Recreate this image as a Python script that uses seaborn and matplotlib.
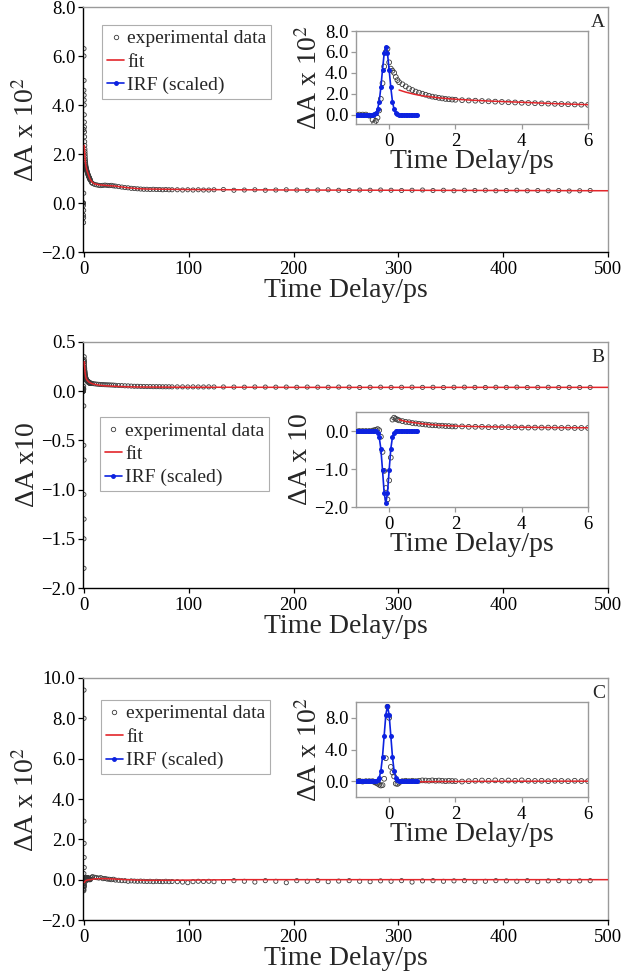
import matplotlib
matplotlib.use("Agg")
import matplotlib.pyplot as plt
import seaborn as sns
from matplotlib.lines import Line2D
from matplotlib.ticker import FuncFormatter, MultipleLocator

# ---------------- data ----------------
t_early = [-1.0, -0.9, -0.8, -0.7, -0.6, -0.5, -0.45, -0.4, -0.35, -0.3, -0.25, -0.2, -0.15,
           -0.1, -0.05, 0.0, 0.05, 0.1, 0.15, 0.2, 0.25, 0.3, 0.4, 0.5, 0.6, 0.7, 0.8, 0.9,
           1.0, 1.1, 1.2, 1.3, 1.4, 1.5, 1.6, 1.7, 1.8, 1.9, 2.0, 2.2, 2.4, 2.6, 2.8, 3.0,
           3.2, 3.4, 3.6, 3.8, 4.0, 4.2, 4.4, 4.6, 4.8, 5.0, 5.2, 5.4, 5.6, 5.8, 6.0]

t_long = [7, 8, 10, 12, 14, 16, 18, 20, 22, 24, 26, 28, 30, 33, 36, 39, 42, 45, 48, 51, 54,
          57, 60, 63, 66, 69, 72, 75, 78, 81, 84, 89, 94, 99, 104, 109, 114, 119, 124,
          133, 143, 153, 163, 173, 183, 193, 203, 213, 223, 233, 243, 253, 263, 273, 283,
          293, 303, 313, 323, 333, 343, 353, 363, 373, 383, 393, 403, 413, 423, 433, 443,
          453, 463, 473, 483]

fit_t = [0.3, 0.5, 0.75, 1.0, 1.5, 2.0, 2.5, 3, 4, 5, 6, 8, 10, 15, 20, 30, 40, 50, 60,
         80, 100, 150, 200, 300, 400, 500]

irf_t = [-1.0, -0.95, -0.9, -0.85, -0.8, -0.75, -0.7, -0.65, -0.6, -0.55, -0.5, -0.45,
         -0.4, -0.35, -0.3, -0.25, -0.2, -0.15, -0.1, -0.05, 0.0, 0.05, 0.1, 0.15, 0.2,
         0.25, 0.3, 0.35, 0.4, 0.45, 0.5, 0.55, 0.6, 0.65, 0.7, 0.75, 0.8, 0.85]

# Panel A  (ΔA x 10^2)
a_exp_early = [0.0, 0.0, 0.0, 0.0, -0.1, -0.5, -0.8, -0.6, -0.3, 0.4, 1.5, 3.0, 4.6,
               6.0, 6.3, 5.0, 4.4, 4.2, 4.0, 3.6, 3.3, 3.1, 2.9, 2.7, 2.5, 2.35, 2.2, 2.1,
               2.0, 1.9, 1.8, 1.72, 1.66, 1.6, 1.55, 1.5, 1.47, 1.44, 1.42, 1.38, 1.35,
               1.33, 1.3, 1.27, 1.24, 1.21, 1.18, 1.16, 1.13, 1.11, 1.09, 1.07, 1.05,
               1.03, 1.01, 0.99, 0.97, 0.95, 0.93]
a_exp_long = [0.84, 0.8, 0.76, 0.74, 0.72, 0.71, 0.72, 0.73, 0.72, 0.71, 0.72, 0.7, 0.69,
              0.67, 0.65, 0.63, 0.62, 0.6, 0.59, 0.58, 0.57, 0.56, 0.56, 0.55, 0.56, 0.55,
              0.55, 0.54, 0.55, 0.54, 0.54, 0.54, 0.53, 0.54, 0.53, 0.54, 0.53, 0.53, 0.54,
              0.55, 0.52, 0.53, 0.54, 0.52, 0.53, 0.54, 0.53, 0.52, 0.53, 0.54, 0.52, 0.51,
              0.53, 0.52, 0.53, 0.52, 0.51, 0.52, 0.53, 0.51, 0.52, 0.50, 0.52, 0.51, 0.52,
              0.50, 0.51, 0.52, 0.50, 0.51, 0.50, 0.51, 0.49, 0.50, 0.51]
a_fit = [2.35, 2.15, 1.95, 1.8, 1.6, 1.47, 1.38, 1.3, 1.18, 1.05, 0.95, 0.84, 0.78, 0.74,
         0.72, 0.69, 0.63, 0.59, 0.57, 0.56, 0.55, 0.54, 0.53, 0.52, 0.51, 0.5]
a_irf = [0, 0, 0, 0, 0, 0, 0, 0, 0, 0, 0, 0.04, 0.16, 0.49, 1.24, 2.6, 4.3, 5.85, 6.5,
         5.85, 4.3, 2.6, 1.24, 0.49, 0.16, 0.04, 0, 0, 0, 0, 0, 0, 0, 0, 0, 0, 0, 0]

# Panel B  (ΔA x 10)
b_exp_early = [0.0, 0.0, 0.0, 0.0, 0.0, 0.01, 0.02, 0.03, 0.05, 0.02, -0.15, -0.55,
               -1.05, -1.5, -1.8, -1.3, -0.7, 0.3, 0.35, 0.32, 0.3, 0.28, 0.26, 0.24,
               0.23, 0.21, 0.2, 0.19, 0.18, 0.17, 0.16, 0.15, 0.15, 0.14, 0.14, 0.13,
               0.13, 0.12, 0.12, 0.12, 0.11, 0.11, 0.11, 0.1, 0.1, 0.1, 0.1, 0.1, 0.09,
               0.09, 0.09, 0.09, 0.09, 0.09, 0.08, 0.09, 0.08, 0.08, 0.08]
b_exp_long = [0.08, 0.078, 0.075, 0.072, 0.07, 0.068, 0.067, 0.066, 0.065, 0.064, 0.063,
              0.062, 0.06, 0.058, 0.057, 0.055, 0.054, 0.052, 0.05, 0.05, 0.049, 0.048,
              0.047, 0.047, 0.046, 0.046, 0.046, 0.045, 0.045, 0.045, 0.044, 0.044, 0.044,
              0.043, 0.044, 0.043, 0.043, 0.044, 0.043, 0.043, 0.042, 0.041, 0.043, 0.042,
              0.041, 0.042, 0.040, 0.042, 0.041, 0.040, 0.042, 0.041, 0.038, 0.040, 0.041,
              0.039, 0.040, 0.041, 0.039, 0.040, 0.038, 0.040, 0.041, 0.039, 0.038, 0.040,
              0.039, 0.041, 0.038, 0.039, 0.040, 0.038, 0.039, 0.038, 0.039]
b_fit = [0.3, 0.25, 0.22, 0.19, 0.15, 0.13, 0.12, 0.11, 0.1, 0.09, 0.085, 0.075, 0.07,
         0.06, 0.055, 0.05, 0.045, 0.043, 0.042, 0.041, 0.04, 0.04, 0.039, 0.039, 0.039,
         0.039]
b_irf = [0, 0, 0, 0, 0, 0, 0, 0, 0, 0, 0, 0, 0, -0.04, -0.16, -0.47, -1.03, -1.63, -1.9,
         -1.63, -1.03, -0.47, -0.16, -0.04, 0, 0, 0, 0, 0, 0, 0, 0, 0, 0, 0, 0, 0, 0]

# Panel C  (ΔA x 10^2)
c_exp_early = [0.0, 0.05, -0.05, 0.0, 0.0, 0.0, -0.1, -0.2, -0.3, -0.45, -0.55, -0.5,
               0.3, 2.9, 9.4, 8.0, 1.8, 1.1, 0.6, -0.3, -0.35, -0.2, 0.0, 0.05, 0.0, 0.05,
               0.0, 0.05, 0.1, 0.08, 0.05, 0.1, 0.05, 0.08, 0.05, 0.0, 0.05, 0.02, 0.0,
               -0.05, 0.0, 0.05, 0.08, 0.05, 0.1, 0.05, 0.08, 0.05, 0.1, 0.05, 0.03, 0.05,
               0.0, 0.05, 0.03, 0.0, 0.05, 0.02, 0.0]
c_exp_long = [0.1, 0.15, 0.12, 0.1, 0.08, 0.1, 0.05, 0.06, 0.03, 0.02, 0.0, 0.02, -0.02,
              -0.03, -0.05, -0.05, -0.08, -0.06, -0.07, -0.08, -0.07, -0.08, -0.09, -0.08,
              -0.1, -0.08, -0.09, -0.1, -0.08, -0.1, -0.09, -0.1, -0.12, -0.15, -0.1,
              -0.08, -0.09, -0.08, -0.1, -0.1, -0.05, -0.08, -0.12, -0.05, -0.08, -0.15,
              -0.05, -0.08, -0.05, -0.1, -0.07, -0.05, -0.08, -0.1, -0.06, -0.08, -0.05,
              -0.12, -0.06, -0.05, -0.08, -0.06, -0.05, -0.1, -0.08, -0.05, -0.06, -0.08,
              -0.05, -0.1, -0.06, -0.05, -0.08, -0.06, -0.05]
c_fit = [-0.15, -0.12, -0.1, -0.08, -0.05, -0.04, -0.03, -0.02, -0.01, 0.0, 0.0, 0.02,
         0.04, 0.05, 0.05, 0.03, 0.0, -0.02, -0.03, -0.03, -0.02, 0.0, 0.0, 0.0, 0.0, 0.0]
c_irf = [0, 0, 0, 0, 0, 0, 0, 0, 0, 0, 0, 0, 0.02, 0.11, 0.42, 1.29, 3.08, 5.76, 8.38,
         9.5, 8.38, 5.76, 3.08, 1.29, 0.42, 0.11, 0.02, 0, 0, 0, 0, 0, 0, 0, 0, 0, 0, 0]

legend_labels = ["experimental data", "fit", "IRF (scaled)"]
panel_letters = ["A", "B", "C"]
main_ylabels = ["ΔA x 10$^{2}$", "ΔA x10", "ΔA x 10$^{2}$"]
inset_ylabels = ["ΔA x 10$^{2}$", "ΔA x 10", "ΔA x 10$^{2}$"]
xlabel = "Time Delay/ps"

# ---------------- style ----------------
sns.set_style("ticks")
plt.rcParams["font.family"] = ["Liberation Serif", "DejaVu Serif"]
plt.rcParams["mathtext.fontset"] = "stix"
plt.rcParams["axes.unicode_minus"] = True

EXP_EC = "#3a3a3a"
FIT_C = "#e3262b"
IRF_C = "#0c22e0"
GRAY = "#9a9a9a"

fig = plt.figure(figsize=(6.21, 9.72), dpi=100)

W, H = 621.0, 972.0
def rect(l, t, r, b):
    return [l / W, 1 - b / H, (r - l) / W, (b - t) / H]

main_rects = [rect(83, 7, 608, 252), rect(83, 342, 608, 588), rect(83, 678, 608, 920)]
inset_rects = [rect(356, 31, 588, 124), rect(356, 412, 588, 507), rect(356, 702, 588, 797)]
main_ylims = [(-2.0, 8.0), (-2.0, 0.5), (-2.0, 10.0)]
main_ystep = [2.0, 0.5, 2.0]
inset_ylims = [(-0.9, 8.0), (-2.0, 0.5), (-2.0, 10.0)]
inset_ystep = [2.0, 1.0, 4.0]
legend_anchor = [(0.036, 0.927), (0.032, 0.695), (0.034, 0.909)]
letter_y = [0.935, 0.935, 0.938]

datasets = [
    (a_exp_early, a_exp_long, a_fit, a_irf),
    (b_exp_early, b_exp_long, b_fit, b_irf),
    (c_exp_early, c_exp_long, c_fit, c_irf),
]


def fmt1(v, pos):
    if abs(v) < 1e-9:
        v = 0.0
    return f"{v:.1f}".replace("-", "\u2212")


def style_axes(ax, main=True):
    for s in ["top", "right"]:
        ax.spines[s].set_color(GRAY)
        ax.spines[s].set_linewidth(1.0)
        ax.spines[s].set_visible(True)
    for s in ["left", "bottom"]:
        ax.spines[s].set_color("black" if main else GRAY)
        ax.spines[s].set_linewidth(1.0)
    ax.tick_params(direction="out", length=3.5, width=0.9, labelcolor="black",
                   color="black" if main else GRAY, top=False, right=False)
    ax.set_facecolor("white")


for i in range(3):
    e_early, e_long, fit_y, irf_y = datasets[i]
    ax = fig.add_axes(main_rects[i])
    exp_x = t_early + t_long
    exp_y = e_early + e_long
    sns.scatterplot(x=exp_x, y=exp_y, ax=ax, marker="o", s=9, facecolor="none",
                    edgecolor=EXP_EC, linewidth=0.6, legend=False, zorder=2)
    sns.lineplot(x=fit_t, y=fit_y, ax=ax, color=FIT_C, linewidth=1.1,
                 estimator=None, sort=False, legend=False, zorder=3)
    ax.set_xlim(-1, 500)
    ax.set_ylim(*main_ylims[i])
    ax.xaxis.set_major_locator(MultipleLocator(100))
    ax.yaxis.set_major_locator(MultipleLocator(main_ystep[i]))
    ax.yaxis.set_major_formatter(FuncFormatter(fmt1))
    style_axes(ax, main=True)
    ax.tick_params(labelsize=13.5, pad=2)
    ax.tick_params(axis="x", pad=3)
    ax.set_xlabel(xlabel, fontsize=20, labelpad=0)
    ax.set_ylabel(main_ylabels[i], fontsize=20, labelpad=1)
    ax.text(0.994, letter_y[i], panel_letters[i], transform=ax.transAxes,
            ha="right", va="center", fontsize=14)

    handles = [
        Line2D([], [], ls="none", marker="o", mfc="none", mec=EXP_EC, ms=3.2, mew=0.6),
        Line2D([], [], color=FIT_C, lw=1.2),
        Line2D([], [], color=IRF_C, lw=1.2, marker="o", ms=2.5),
    ]
    leg = ax.legend(handles, legend_labels, loc="upper left",
                    bbox_to_anchor=legend_anchor[i], borderaxespad=0,
                    fontsize=14, frameon=True, fancybox=False, handlelength=0.9,
                    handletextpad=0.15, borderpad=0.25, labelspacing=0.3,
                    numpoints=1)
    leg.get_frame().set_edgecolor(GRAY)
    leg.get_frame().set_linewidth(0.8)

    # inset
    ins = fig.add_axes(inset_rects[i])
    sns.scatterplot(x=t_early, y=e_early, ax=ins, marker="o", s=12, facecolor="none",
                    edgecolor=EXP_EC, linewidth=0.6, legend=False, zorder=2)
    sns.lineplot(x=fit_t, y=fit_y, ax=ins, color=FIT_C, linewidth=1.1,
                 estimator=None, sort=False, legend=False, zorder=3)
    sns.lineplot(x=irf_t, y=irf_y, ax=ins, color=IRF_C, linewidth=1.2, marker="o",
                 markersize=3.6, markeredgewidth=0, estimator=None, sort=False,
                 legend=False, zorder=4)
    ins.set_xlim(-1, 6)
    ins.set_ylim(*inset_ylims[i])
    ins.xaxis.set_major_locator(MultipleLocator(2))
    ins.yaxis.set_major_locator(MultipleLocator(inset_ystep[i]))
    ins.yaxis.set_major_formatter(FuncFormatter(fmt1))
    style_axes(ins, main=False)
    ins.tick_params(labelsize=13.5, pad=2)
    ins.tick_params(axis="x", pad=3)
    ins.set_xlabel(xlabel, fontsize=20, labelpad=-1)
    ins.set_ylabel(inset_ylabels[i], fontsize=20, labelpad=1)

fig.savefig("out.png", dpi=100, facecolor="white")
